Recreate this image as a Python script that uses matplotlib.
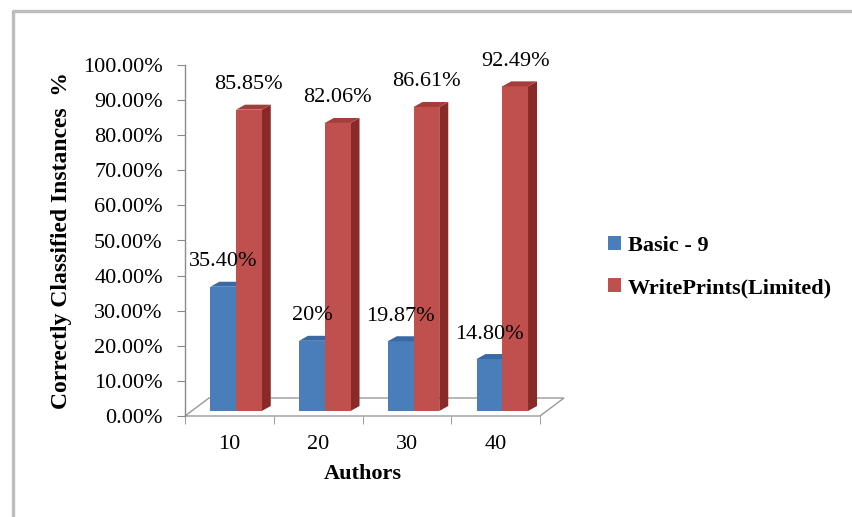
import matplotlib
matplotlib.use("Agg")
import matplotlib.pyplot as plt
from matplotlib.patches import Polygon, Patch
from matplotlib.lines import Line2D

# ---- data ----
categories = ["10", "20", "30", "40"]
basic9 = [35.40, 20.0, 19.87, 14.80]
writeprints = [85.85, 82.06, 86.61, 92.49]
basic9_labels = ["35.40%", "20%", "19.87%", "14.80%"]
writeprints_labels = ["85.85%", "82.06%", "86.61%", "92.49%"]
series_names = ["Basic - 9", "WritePrints(Limited)"]
yticks = [0, 10, 20, 30, 40, 50, 60, 70, 80, 90, 100]

W, H = 852, 517
fig = plt.figure(figsize=(W / 100, H / 100), dpi=100)
fig.patch.set_facecolor("white")

# axes placement (pixel based)
axL, axR, axT, axB = 185, 540, 65, 416
ax = fig.add_axes([axL / W, (H - axB) / H, (axR - axL) / W, (axB - axT) / H])
ax.set_xlim(-0.5, 3.5)
ax.set_ylim(0, 100)
ax.set_facecolor("none")

pxx = 4.0 / (axR - axL)        # data units per pixel, x
pxy = 100.0 / (axB - axT)      # data units per pixel, y

serif = "Liberation Serif"
fs = 16

# floor (3D base)
fdx, fdy = 24 * pxx, 18 * pxy
floor = Polygon([(-0.5, 0), (3.5, 0), (3.5 + fdx, fdy), (-0.5 + fdx, fdy)],
                closed=True, facecolor="white", edgecolor="#9a9a9a", lw=1.0,
                clip_on=False, zorder=1)
ax.add_patch(floor)

# bars
bw = 0.29
off_b, off_r = -0.07, 0.22
base = 5 * pxy
bdx, bdy = 9 * pxx, 5 * pxy

def draw_series(xs, vals, front, top, side, z):
    bars = ax.bar(xs, vals, width=bw, bottom=base, color=front,
                  edgecolor="none", zorder=z, clip_on=False)
    for r in bars:
        x0 = r.get_x(); w = r.get_width()
        y0 = r.get_y(); y1 = y0 + r.get_height()
        ax.add_patch(Polygon([(x0, y1), (x0 + w, y1), (x0 + w + bdx, y1 + bdy),
                              (x0 + bdx, y1 + bdy)], closed=True,
                             facecolor=top, edgecolor="none", zorder=z,
                             clip_on=False))
        ax.add_patch(Polygon([(x0 + w, y0), (x0 + w + bdx, y0 + bdy),
                              (x0 + w + bdx, y1 + bdy), (x0 + w, y1)],
                             closed=True, facecolor=side, edgecolor="none",
                             zorder=z - 0.5, clip_on=False))
    return bars

xs = list(range(len(categories)))
xb = [x + off_b for x in xs]
xr = [x + off_r for x in xs]
draw_series(xb, basic9, "#4a7ebb", "#3b69a3", "#30578a", 3)
draw_series(xr, writeprints, "#c0504d", "#a53d3a", "#8a2a28", 5)

# data labels
for x, v, t in zip(xb, basic9, basic9_labels):
    ax.annotate(t, (x, v + base), xytext=(0, 18), textcoords="offset points",
                ha="center", va="center", fontsize=fs, family=serif,
                zorder=10, annotation_clip=False)
for x, v, t in zip(xr, writeprints, writeprints_labels):
    ax.annotate(t, (x, v + base), xytext=(0, 18), textcoords="offset points",
                ha="center", va="center", fontsize=fs, family=serif,
                zorder=10, annotation_clip=False)

# axes styling
for s in ["top", "right", "bottom"]:
    ax.spines[s].set_visible(False)
ax.spines["left"].set_color("#8a8a8a")
ax.spines["left"].set_linewidth(1.0)
ax.set_yticks(yticks)
ax.set_yticklabels([f"{t:.2f}%" for t in yticks], family=serif, fontsize=fs)
ax.tick_params(axis="y", direction="out", length=6, color="#8a8a8a", pad=10)

# category ticks as minor at boundaries, labels at centers
ax.set_xticks(xs)
ax.set_xticklabels(categories, family=serif, fontsize=fs)
ax.set_xticks([-0.5, 0.5, 1.5, 2.5, 3.5], minor=True)
ax.tick_params(axis="x", which="major", length=0, pad=14)
ax.tick_params(axis="x", which="minor", direction="out", length=6,
               color="#8a8a8a")

ax.set_xlabel("Authors", family=serif, fontsize=fs, fontweight="bold",
              labelpad=7)
ax.set_ylabel("Correctly Classified Instances  %", family=serif, fontsize=17,
              fontweight="bold", labelpad=8)

# legend
handles = [Patch(facecolor="#4a7ebb", edgecolor="none"),
           Patch(facecolor="#c0504d", edgecolor="none")]
fig.legend(handles, series_names, loc="center left",
           bbox_to_anchor=(588 / W, 1 - 267 / H), frameon=False,
           prop={"family": serif, "size": fs, "weight": "bold"},
           handlelength=0.6, handleheight=0.6, handletextpad=0.3,
           labelspacing=1.0)

# chart frame (left and top visible)
fig.add_artist(Line2D([13 / W, 13 / W, 1.0], [0.0, 1 - 11 / H, 1 - 11 / H],
                      transform=fig.transFigure, color="#bdbdbd", lw=2.4))

fig.savefig("out.png", dpi=100, facecolor="white")
